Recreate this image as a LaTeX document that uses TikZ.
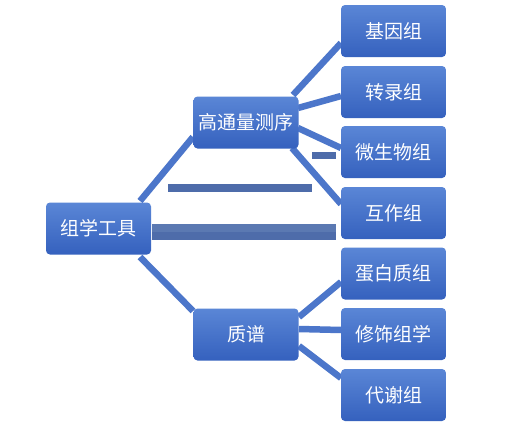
\documentclass[tikz,border=0pt]{standalone}
\usepackage{fontspec}
\setmainfont{Noto Sans CJK SC}
\definecolor{boxtop}{HTML}{5A86D6}
\definecolor{boxbot}{HTML}{3561BE}
\definecolor{linec}{HTML}{4C76CA}
\definecolor{bara}{HTML}{4E6CAA}
\definecolor{barlight}{HTML}{5B79B2}
\begin{document}
\begin{tikzpicture}[x=1pt,y=-1pt,
  box/.style={rounded corners=4pt, top color=boxtop, bottom color=boxbot, draw=none,
    minimum width=105pt, minimum height=52pt, inner sep=0pt, text=white,
    font=\fontsize{19}{22}\selectfont},
  conn/.style={draw=linec, line width=6.5pt}]
\useasboundingbox (0,0) rectangle (517,431);
\fill[white] (0,0) rectangle (517,431);
% connectors
\coordinate (r0) at (140,201);
\coordinate (h0) at (193,137);
\coordinate (r1) at (140,257);
\coordinate (z0) at (193,311);
\coordinate (hA) at (293,95);  \coordinate (gA) at (341,43);
\coordinate (hB) at (298,108); \coordinate (gB) at (341,96);
\coordinate (hC) at (298,128); \coordinate (gC) at (341,148);
\coordinate (hD) at (292,148); \coordinate (gD) at (341,204);
\coordinate (zA) at (299,317); \coordinate (gE) at (341,282);
\coordinate (zB) at (299,329); \coordinate (gF) at (341,330);
\coordinate (zC) at (299,346); \coordinate (gG) at (341,378);
\draw[conn] (r0) -- (h0);
\draw[conn] (r1) -- (z0);
\draw[conn] (hA) -- (gA);
\draw[conn] (hB) -- (gB);
\draw[conn] (hC) -- (gC);
\draw[conn] (hD) -- (gD);
\draw[conn] (zA) -- (gE);
\draw[conn] (zB) -- (gF);
\draw[conn] (zC) -- (gG);
% bars
\fill[bara] (168,184) rectangle (312,192);
\fill[barlight] (152,224) rectangle (336,232);
\fill[bara] (152,232) rectangle (336,240);
\fill[bara] (312,152) rectangle (336,159);
% boxes
\node[box] (root) at (98.5,228.5) {组学工具};
\node[box] (hts) at (246,122.5) {高通量测序};
\node[box] (ms) at (246,334.5) {质谱};
\node[box] (g1) at (393.5,31) {基因组};
\node[box] (g2) at (393.5,92) {转录组};
\node[box] (g3) at (393.5,152) {微生物组};
\node[box] (g4) at (393.5,213) {互作组};
\node[box] (g5) at (393.5,273.5) {蛋白质组};
\node[box] (g6) at (393.5,334) {修饰组学};
\node[box] (g7) at (393.5,395) {代谢组};
\end{tikzpicture}
\end{document}
